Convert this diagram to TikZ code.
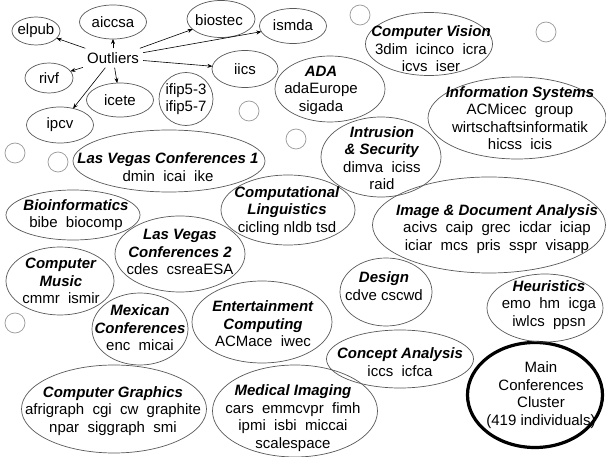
\documentclass[tikz,border=0pt]{standalone}
\usepackage{fontspec}
\setmainfont{Liberation Sans}
\usetikzlibrary{shapes.geometric,arrows.meta}
\newcommand\ttl[1]{\textbf{\textit{#1}}}
\begin{document}
\begin{tikzpicture}[x=1pt,y=-1pt,
  ell/.style={draw=black!65, line width=0.7pt, ellipse, inner sep=0pt, outer sep=0pt},
  dot/.style={draw=black!40, line width=0.7pt, circle, inner sep=0pt, minimum size=20pt},
  txt/.style={align=center, inner sep=0pt, font=\fontsize{15}{17.5}\selectfont},
  arr/.style={-{Stealth[length=5pt,width=4pt]}, line width=0.6pt, black}
]
\fill[white] (0,0) rectangle (606,457);
\useasboundingbox (0,0) rectangle (606,457);

% small circles
\node[dot] (d1) at (360,15) {};
\node[dot] (d2) at (546,32) {};
\node[dot] (d3) at (249,111) {};
\node[dot] (d4) at (296,139) {};
\node[dot] (d5) at (15,153) {};
\node[dot] (d6) at (58,162) {};
\node[dot] (d7) at (15,323) {};

% outlier ellipses
\node[ell, minimum width=48pt, minimum height=28pt] (elpub) at (36,31) {};
\node[txt] (t-elpub) at (36,31) {elpub};
\node[ell, minimum width=67pt, minimum height=34pt] (aiccsa) at (113,22) {};
\node[txt] (t-aiccsa) at (113,22) {aiccsa};
\node[ell, minimum width=68pt, minimum height=37pt] (biostec) at (221,19) {};
\node[txt] (t-biostec) at (219,20) {biostec};
\node[ell, minimum width=67pt, minimum height=35pt] (ismda) at (293,26) {};
\node[txt] (t-ismda) at (293,25) {ismda};
\node[ell, minimum width=48pt, minimum height=30pt] (rivf) at (49,78) {};
\node[txt] (t-rivf) at (49,78) {rivf};
\node[ell, minimum width=66pt, minimum height=37pt] (iics) at (245,69) {};
\node[txt] (t-iics) at (245,69) {iics};
\node[ell, minimum width=67pt, minimum height=34pt] (icete) at (120,100) {};
\node[txt] (t-icete) at (120,100) {icete};
\node[ell, minimum width=54pt, minimum height=53pt] (ifip) at (186,99) {};
\node[txt] (t-ifip) at (186,99) {ifip5-3\\ifip5-7};
\node[ell, minimum width=67pt, minimum height=36pt] (ipcv) at (60,125) {};
\node[txt] (t-ipcv) at (60,125) {ipcv};

\node[txt, inner sep=4pt] (out) at (113,58) {Outliers};
\draw[arr] (out) -- (elpub);
\draw[arr] (out) -- (aiccsa);
\draw[arr] (out) -- (biostec);
\draw[arr] (out) -- (ismda);
\draw[arr] (out) -- (iics);
\draw[arr] (out) -- (rivf);
\draw[arr] (out) -- (icete);
\draw[arr] (out) -- (ipcv);

% clusters
\node[ell, minimum width=110pt, minimum height=66pt] (ada) at (330,89) {};
\node[txt] (t-ada) at (321,90) {\ttl{ADA}\\adaEurope\\sigada};
\node[ell, minimum width=127pt, minimum height=63pt] (cv) at (429,44) {};
\node[txt] (t-cv) at (431,49) {\ttl{Computer Vision}\\3dim~~icinco~~icra\\icvs~~iser};
\node[ell, minimum width=178pt, minimum height=82pt] (is) at (517,118) {};
\node[txt] (t-is) at (520,118) {\ttl{Information Systems}\\ACMicec~~group\\wirtschaftsinformatik\\hicss~~icis};
\node[ell, minimum width=120pt, minimum height=80pt] (sec) at (381,157) {};
\node[txt] (t-sec) at (382,158) {\ttl{Intrusion}\\\ttl{\& Security}\\dimva~~iciss\\raid};
\node[ell, minimum width=192pt, minimum height=62pt] (lv1) at (169,161) {};
\node[txt] (t-lv1) at (168,167) {\ttl{Las Vegas Conferences 1}\\dmin~~icai~~ike};
\node[ell, minimum width=134pt, minimum height=50pt] (bio) at (73,215) {};
\node[txt] (t-bio) at (76,215) {\ttl{Bioinformatics}\\bibe~~biocomp};
\node[ell, minimum width=134pt, minimum height=70pt] (cl) at (288,210) {};
\node[txt] (t-cl) at (287,211) {\ttl{Computational}\\\ttl{Linguistics}\\cicling nldb tsd};
\node[ell, minimum width=130pt, minimum height=76pt] (lv2) at (180,254) {};
\node[txt] (t-lv2) at (180,252) {\ttl{Las Vegas}\\\ttl{Conferences 2}\\cdes~~csreaESA};
\node[ell, minimum width=108pt, minimum height=68pt] (cm) at (60,281) {};
\node[txt] (t-cm) at (61,281) {\ttl{Computer}\\\ttl{Music}\\cmmr~~ismir};
\node[ell, minimum width=96pt, minimum height=72pt] (mc) at (140,329) {};
\node[txt] (t-mc) at (140,328) {\ttl{Mexican}\\\ttl{Conferences}\\enc~~micai};
\node[ell, minimum width=140pt, minimum height=82pt] (ec) at (262,322) {};
\node[txt] (t-ec) at (263,324) {\ttl{Entertainment}\\\ttl{Computing}\\ACMace~~iwec};
\node[ell, minimum width=185pt, minimum height=88pt] (cg) at (114,409) {};
\node[txt] (t-cg) at (113,411) {\ttl{Computer Graphics}\\afrigraph~~cgi~~cw~~graphite\\npar~~siggraph~~smi};
\node[ell, minimum width=165pt, minimum height=92pt] (mi) at (295,411) {};
\node[txt] (t-mi) at (293,418) {\ttl{Medical Imaging}\\cars~~emmcvpr~~fimh\\ipmi~~isbi~~miccai\\scalespace};
\node[ell, minimum width=147pt, minimum height=58pt] (ca) at (400,359) {};
\node[txt] (t-ca) at (400,362) {\ttl{Concept Analysis}\\iccs~~icfca};
\node[ell, draw=black, line width=3.2pt, minimum width=135pt, minimum height=105pt] (main) at (535,395) {};
\node[txt] (t-main) at (541,395) {Main\\Conferences\\Cluster\\(419 individuals)};
\node[ell, minimum width=116pt, minimum height=68pt] (heu) at (545,308) {};
\node[txt] (t-heu) at (549,305) {\ttl{Heuristics}\\emo~~hm~~icga\\iwlcs~~ppsn};
\node[ell, minimum width=92pt, minimum height=68pt] (des) at (386,292) {};
\node[txt] (t-des) at (384,286) {\ttl{Design}\\cdve cscwd};
\node[ell, minimum width=233pt, minimum height=96pt] (ida) at (489,225) {};
\node[txt] (t-ida) at (497,229) {\ttl{Image \& Document Analysis}\\acivs~~caip~~grec~~icdar~~iciap\\iciar~~mcs~~pris~~sspr~~visapp};
\end{tikzpicture}
\end{document}
